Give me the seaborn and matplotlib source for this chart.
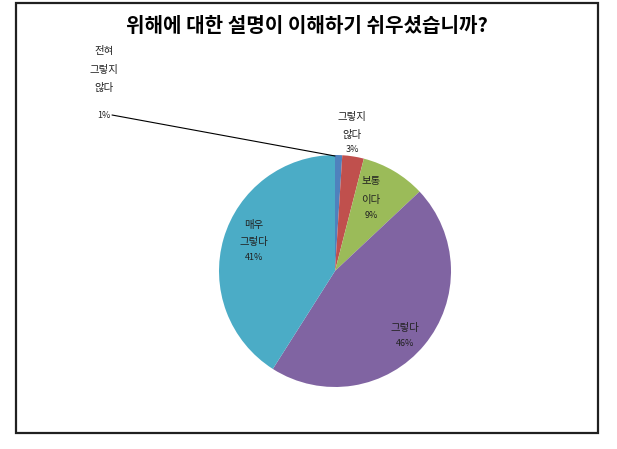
import matplotlib
matplotlib.use("Agg")
import matplotlib.pyplot as plt
import seaborn as sns
from matplotlib.patches import Rectangle

sns.set_theme(style="white")
plt.rcParams['font.family'] = ['Noto Sans CJK KR', 'DejaVu Sans']

categories = ["전혀\n그렇지\n않다", "그렇지\n않다", "보통\n이다", "그렇다", "매우\n그렇다"]
values = [1, 3, 9, 46, 41]
pct_labels = ["1%", "3%", "9%", "46%", "41%"]
colors = ["#4F81BD", "#C0504D", "#9BBB59", "#8064A2", "#4BACC6"]

W, H = 617, 449
fig = plt.figure(figsize=(W / 100, H / 100), dpi=100)
fig.patch.set_facecolor("white")

# outer frame
fig.add_artist(Rectangle((16 / W, 1 - 433 / H), (598 - 16) / W, (433 - 3) / H,
                         transform=fig.transFigure, fill=False, edgecolor="#202020",
                         linewidth=1.6))

cx, cy, r = 335, 271, 116
ax = fig.add_axes([(cx - r) / W, (H - cy - r) / H, 2 * r / W, 2 * r / H])
ax.pie(values, colors=colors, startangle=90, counterclock=False,
       wedgeprops=dict(linewidth=0), radius=1.0)
ax.set_xlim(-1, 1)
ax.set_ylim(-1, 1)
ax.set_aspect("equal")
ax.axis("off")


def to_data(px, py):
    return (px - cx) / r, (cy - py) / r


# label line positions in pixels (x, [y for each line])
label_pos = [
    (104, [51, 70, 88, 115]),
    (352, [117, 135, 150]),
    (371, [181, 200, 215]),
    (405, [328, 343]),
    (254, [225, 242, 257]),
]
for cat, pct, (px, ys) in zip(categories, pct_labels, label_pos):
    lines = cat.split("\n") + [pct]
    for line, py in zip(lines, ys):
        x, y = to_data(px, py)
        fs = 6.5 if "%" in line else 7.5
        ax.text(x, y, line, ha="center", va="center", fontsize=fs,
                color="#222222", clip_on=False)

# leader line for 1%
x0, y0 = to_data(112, 115)
x1, y1 = to_data(335, 156)
ax.plot([x0, x1], [y0, y1], color="black", linewidth=0.8, clip_on=False)

fig.text(307 / W, 1 - 25 / H, "위해에 대한 설명이 이해하기 쉬우셨습니까?",
         ha="center", va="center", fontsize=14.5, fontweight="bold", color="black")

fig.savefig("out.png", dpi=100, facecolor="white")
